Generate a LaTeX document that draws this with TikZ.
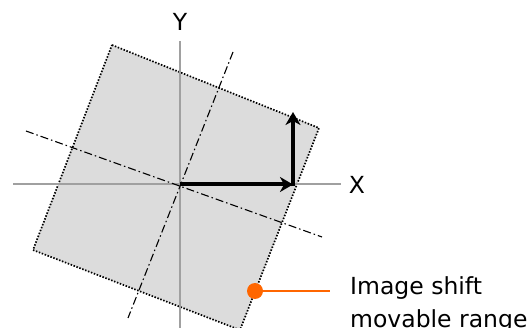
\documentclass[tikz,border=0pt]{standalone}
\usepackage{fontspec}
\setmainfont{DejaVu Sans}
\usetikzlibrary{arrows.meta}
\definecolor{rangefill}{HTML}{DCDCDC}
\definecolor{axisgray}{HTML}{A0A0A0}
\definecolor{callout}{HTML}{FF6600}
\tikzset{
  axisline/.style={draw=axisgray, line width=2pt},
  rotaxis/.style={draw=black, line width=1.1pt, dash pattern=on 8pt off 3pt on 1.5pt off 3pt},
  rangebox/.style={fill=rangefill, draw=black, line width=1.7pt, dash pattern=on 1.5pt off 1.6pt},
  vecarrow/.style={draw=black, line width=4pt, -{Stealth[length=13pt,width=15pt,inset=4pt]}},
  lbl/.style={font=\fontsize{23.5}{28}\selectfont, inner sep=0pt},
}
\begin{document}
\begin{tikzpicture}[x=1pt,y=-1pt]
\useasboundingbox (0,0) rectangle (527,328);
% movable range
\draw[rangebox] (112,45) -- (319,128) -- (240,330) -- (33,250) -- cycle;
% fixed axes
\coordinate (xl) at (13,184.5);
\coordinate (xr) at (341,184.5);
\coordinate (yt) at (180,41);
\coordinate (yb) at (180,330);
\coordinate (o) at (180,184.5);
\draw[axisline] (xl) -- (xr);
\draw[axisline] (yt) -- (yb);
% rotated axes
\coordinate (r1a) at (26,131);
\coordinate (r1b) at (322,237);
\coordinate (r2a) at (233,52);
\coordinate (r2b) at (128,318);
\draw[rotaxis] (r1a) -- (r1b);
\draw[rotaxis] (r2a) -- (r2b);
% vectors
\coordinate (c) at (293,184.5);
\coordinate (cu) at (293,112);
\coordinate (cs) at (293,186.5);
\draw[vecarrow] (o) -- (c);
\draw[vecarrow] (cs) -- (cu);
% labels
\node[lbl] (X) at (357,184.5) {X};
\node[lbl] (Y) at (180,22) {Y};
% callout
\node[circle, fill=callout, inner sep=0pt, minimum size=16pt] (dot) at (255,291) {};
\coordinate (ce) at (330,291);
\draw[callout, line width=1.8pt] (dot) -- (ce);
\node[lbl, anchor=base west] (l1) at (350,295) {Image shift};
\node[lbl, anchor=base west] (l2) at (350,327) {movable range};
\end{tikzpicture}
\end{document}
